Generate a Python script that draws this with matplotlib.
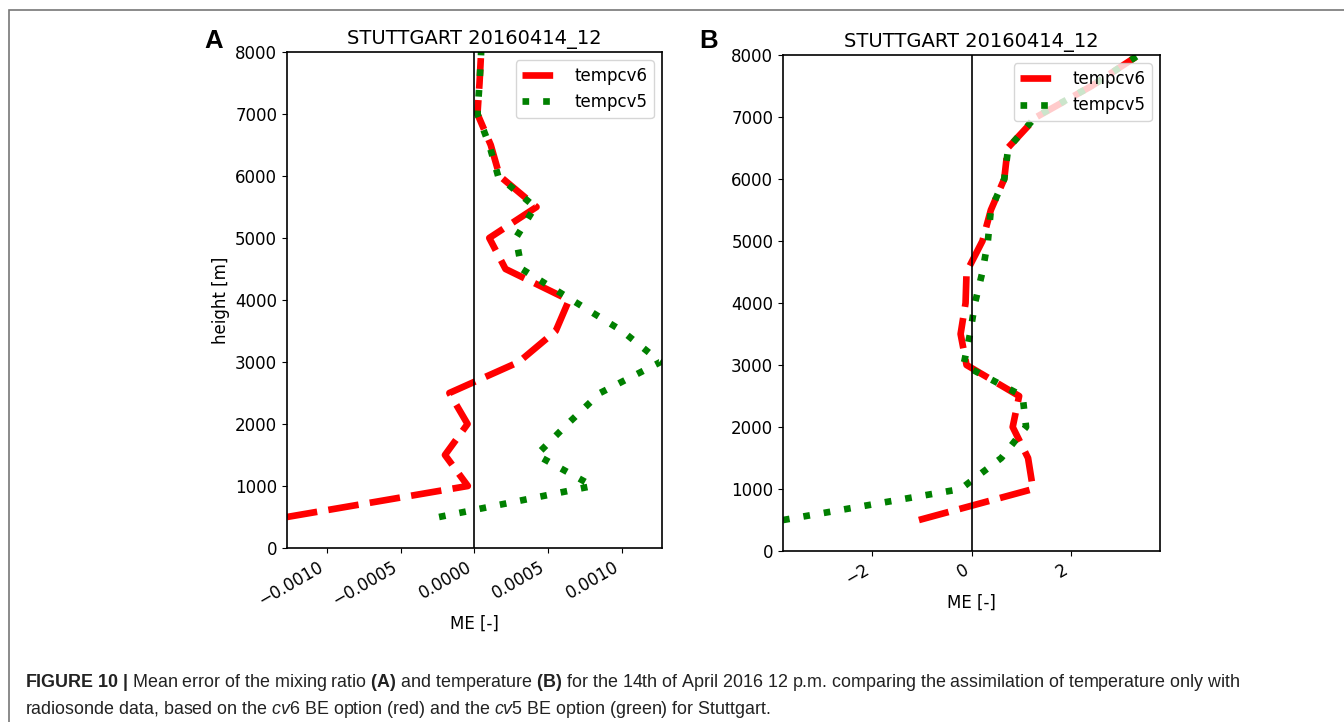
import matplotlib
matplotlib.use("Agg")
import matplotlib.pyplot as plt
from matplotlib.patches import Rectangle

# heights of the profile levels [m]
heights = [500, 1000, 1500, 2000, 2500, 3000, 3500, 4000,
           4500, 5000, 5500, 6000, 6500, 7000, 7500, 8000]

# panel A: mixing ratio mean error
qv_cv6 = [-0.00127, -0.000045, -0.00020, -0.000047, -0.00017, 0.00030, 0.00055, 0.00064,
          0.00021, 0.00010, 0.00042, 0.00017, 0.00011, 0.00002, 0.000034, 0.000045]
qv_cv5 = [-0.00024, 0.00080, 0.00042, 0.00063, 0.00085, 0.00126, 0.00100, 0.00066,
          0.00032, 0.00028, 0.00041, 0.00016, 0.00010, 0.00002, 0.000034, 0.000045]

# panel B: temperature mean error
t_cv6 = [-1.06, 1.24, 1.14, 0.83, 0.96, -0.10, -0.22, -0.12,
         -0.10, 0.22, 0.39, 0.66, 0.73, 1.31, 2.42, 3.37]
t_cv5 = [-3.80, -0.22, 0.60, 1.10, 1.03, -0.16, -0.03, 0.07,
         0.22, 0.33, 0.39, 0.66, 0.74, 1.29, 2.42, 3.37]

title = "STUTTGART 20160414_12"

plt.rcParams["font.size"] = 12
plt.rcParams["mathtext.fontset"] = "custom"
plt.rcParams["mathtext.rm"] = "Liberation Sans"
plt.rcParams["mathtext.bf"] = "Liberation Sans:bold"
plt.rcParams["mathtext.it"] = "Liberation Sans:italic"

fig = plt.figure(figsize=(13.44, 7.22), dpi=100)
axA = fig.add_axes([0.2135, 0.241, 0.2791, 0.687])
axB = fig.add_axes([0.5826, 0.2368, 0.2805, 0.687])


def draw_panel(ax, cv6, cv5):
    ax.plot(cv6, heights, color="red", lw=4.8, linestyle=(0, (4.6, 1.7)), label="tempcv6")
    ax.plot(cv5, heights, color="green", lw=4.8, linestyle=(0, (1, 2.1)), label="tempcv5")
    ax.axvline(0, color="black", lw=1.2)
    lim = max(abs(v) for v in cv6 + cv5)
    ax.set_xlim(-lim, lim)
    ax.set_ylim(0, 8000)
    ax.set_yticks(range(0, 8001, 1000))
    ax.set_title(title, fontsize=14)
    ax.set_xlabel("ME [-]")
    ax.legend(loc="upper right", fontsize=12, handlelength=2.3)
    plt.setp(ax.get_xticklabels(), rotation=30, ha="right")
    for s in ax.spines.values():
        s.set_linewidth(1.2)


draw_panel(axA, qv_cv6, qv_cv5)
axA.set_xticks([-0.001, -0.0005, 0, 0.0005, 0.001])
axA.set_xticklabels(["\u22120.0010", "\u22120.0005", "0.0000", "0.0005", "0.0010"],
                    rotation=30, ha="right")
axA.set_ylabel("height [m]")

draw_panel(axB, t_cv6, t_cv5)
axB.set_xticks([-2, 0, 2])

fig.text(204 / 1344, 1 - 48 / 722, "A", fontsize=18.5, fontweight="bold", family="Liberation Sans")
fig.text(699 / 1344, 1 - 48 / 722, "B", fontsize=18.5, fontweight="bold", family="Liberation Sans")

# caption
cap1 = (r"$\mathbf{FIGURE\ 10\ |}$ Mean error of the mixing ratio $\mathbf{(A)}$ and temperature "
        r"$\mathbf{(B)}$ for the 14th of April 2016 12 p.m. comparing the assimilation of temperature only with")
cap2 = (r"radiosonde data, based on the $\mathit{cv6}$ BE option (red) and the $\mathit{cv5}$ BE option "
        r"(green) for Stuttgart.")
fig.text(25 / 1344, 1 - 687 / 722, cap1, fontsize=12.9, family="Liberation Sans", color="#222222")
fig.text(25 / 1344, 1 - 714 / 722, cap2, fontsize=12.9, family="Liberation Sans", color="#222222")

# outer frame of the figure panel
fig.patches.append(Rectangle((9 / 1344, -0.1), 1.2, 1.1 - 10 / 722, transform=fig.transFigure,
                             fill=False, edgecolor="#777777", lw=1.2))

fig.savefig("out.png", dpi=100)
